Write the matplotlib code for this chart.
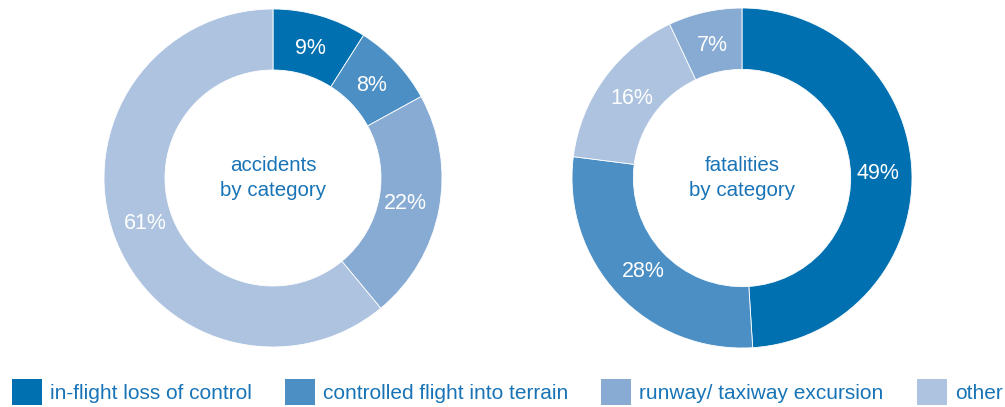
import matplotlib.pyplot as plt
from matplotlib.patches import Patch

plt.rcParams['font.family'] = ['Liberation Sans', 'DejaVu Sans']

categories = ['in-flight loss of control', 'controlled flight into terrain',
              'runway/ taxiway excursion', 'other']
colors = ['#0070b0', '#4b8fc5', '#87abd3', '#adc3e0']
text_color = '#1874b6'

# accidents: order clockwise from 12 o'clock
acc_values = [9, 8, 22, 61]
acc_colors = [colors[0], colors[1], colors[2], colors[3]]

# fatalities: loss of control, CFIT, other, runway
fat_values = [49, 28, 16, 7]
fat_colors = [colors[0], colors[1], colors[3], colors[2]]

titles = ['accidents\nby category', 'fatalities\nby category']

W, H = 1005, 407
fig = plt.figure(figsize=(W / 100, H / 100), dpi=100)


def donut(cx, cy, r, values, cols, title):
    ax = fig.add_axes([(cx - r) / W, (H - cy - r) / H, 2 * r / W, 2 * r / H])
    ax.pie(values, colors=cols, startangle=90, counterclock=False, radius=1,
           autopct='%d%%', pctdistance=0.8,
           wedgeprops=dict(width=61 / 169, edgecolor='white', linewidth=0.6),
           textprops=dict(color='white', fontsize=15.5))
    ax.text(0, 0, title, ha='center', va='center', color=text_color,
            fontsize=14.8, linespacing=1.4)
    ax.set_xlim(-1, 1)
    ax.set_ylim(-1, 1)
    ax.set_aspect('equal')
    ax.axis('off')


donut(273, 178, 169, acc_values, acc_colors, titles[0])
donut(742, 178, 170, fat_values, fat_colors, titles[1])

handles = [Patch(facecolor=c, edgecolor='none') for c in colors]
fig.legend(handles, categories, ncol=4, loc='lower left',
           bbox_to_anchor=(12 / W, 2 / H), frameon=False, fontsize=15,
           handlelength=30 / 20.8, handleheight=32 / 20.8,
           handletextpad=8 / 20.8, columnspacing=33 / 20.8,
           borderpad=0, borderaxespad=0, labelcolor=text_color)

fig.savefig('out.png', dpi=100)
